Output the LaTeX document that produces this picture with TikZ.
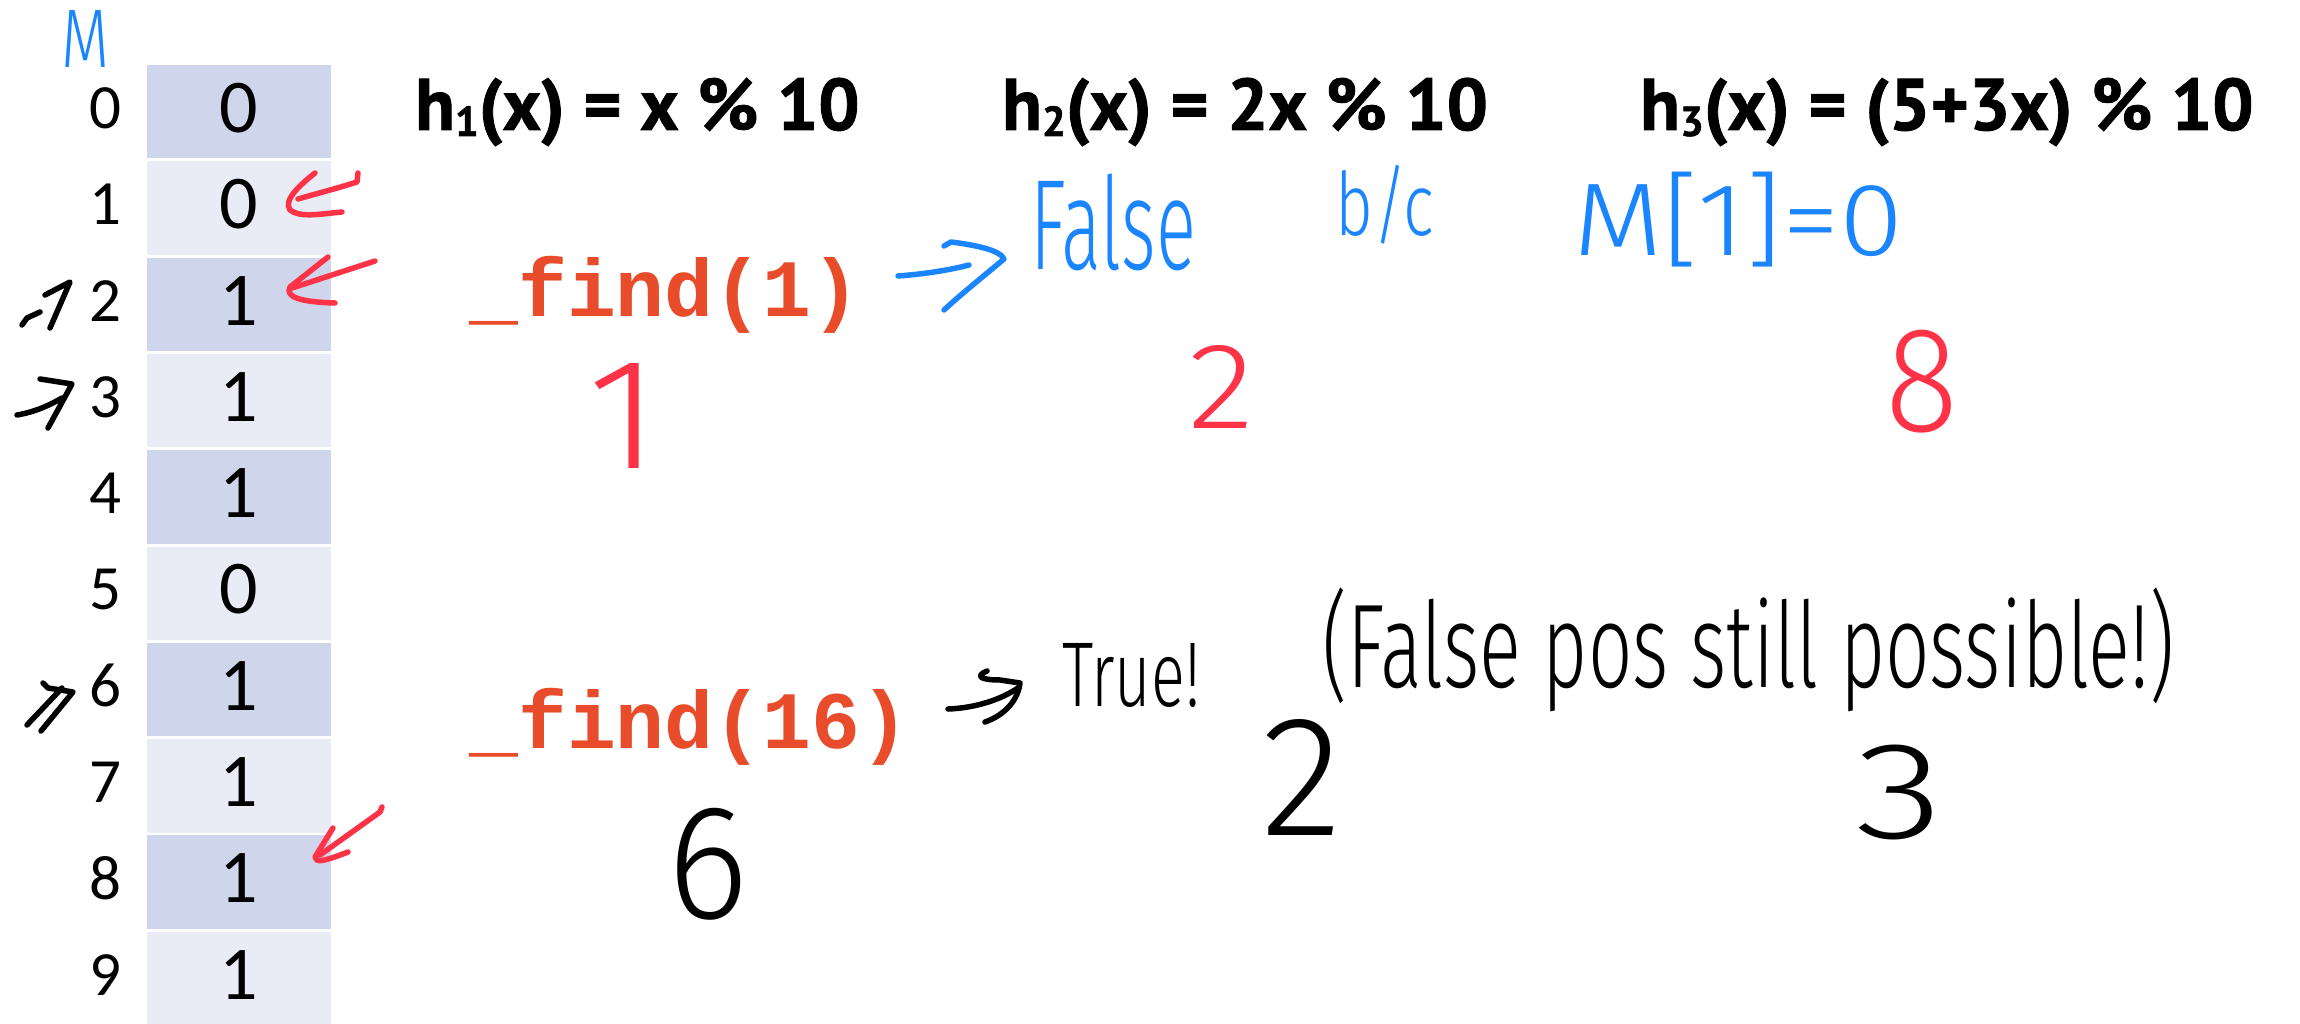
\documentclass[tikz,border=0pt]{standalone}
\usepackage{fontspec}
\usepackage{graphicx}
\setmainfont{Carlito}
\newfontfamily\headfont{PT Sans}[BoldFeatures={FakeBold=1.2}]
\newfontfamily\codefont{Liberation Mono}
\newfontfamily\handfont{Fira Sans Light}

\definecolor{rowdark}{HTML}{CFD5EA}
\definecolor{rowlight}{HTML}{E9EBF5}
\definecolor{codeorange}{HTML}{E84C2B}
\definecolor{inkblue}{HTML}{1A85FF}
\definecolor{inkred}{HTML}{FF3347}

% handwriting fitted into its box: width, height, text
\newcommand{\scrawl}[3]{\resizebox*{#1pt}{#2pt}{\handfont #3}}
% hash index subscript
\newcommand{\hsub}[1]{\raisebox{-6pt}{\fontsize{42}{42}\selectfont #1}}

\tikzset{
  cellnum/.style={inner sep=0pt, font=\fontsize{76}{76}\selectfont},
  idxnum/.style={inner sep=0pt, anchor=east, font=\fontsize{63}{63}\selectfont},
  hashfn/.style={inner sep=0pt, anchor=base west, font=\headfont\bfseries\fontsize{73}{73}\selectfont},
  call/.style={inner sep=0pt, anchor=base west, text=codeorange, font=\codefont\bfseries\fontsize{81.5}{81.5}\selectfont},
  note/.style={inner sep=0pt, anchor=north west},
  pen/.style={line width=5.5pt, line cap=round, line join=round},
}

\begin{document}
\begin{tikzpicture}[x=1pt, y=-1pt]
\useasboundingbox (0,0) rectangle (2300,1024);

% bit array M
\foreach \v/\c [count=\i from 0] in {0/rowdark,0/rowlight,1/rowdark,1/rowlight,1/rowdark,0/rowlight,1/rowdark,1/rowlight,1/rowdark,1/rowlight} {
  \fill[\c] (147,{65+96.3*\i}) rectangle (331,{65+96.3*\i+93.5});
  \node[cellnum] (cell\i) at (239,{65+96.3*\i+43}) {\v};
  \node[idxnum] (idx\i) at (122,{65+96.3*\i+43}) {\i};
}
\node[inner sep=0pt, text=inkblue] (mlabel) at (86,39) {\scrawl{48}{57}{M}};

% hash functions
\node[hashfn] (h1) at (415,130) {h\hsub{1}(x) = x \% 10};
\node[hashfn] (h2) at (1002,130) {h\hsub{2}(x) = 2x \% 10};
\node[hashfn] (h3) at (1640,130) {h\hsub{3}(x) = (5+3x) \% 10};

% lookups
\node[call] (find1) at (469,317) {\_find(1)};
\node[call] (find16) at (469,748) {\_find(16)};

% first lookup
\draw[pen, inkblue] (898,276) .. controls (925,274) and (950,270) .. (969,265);
\draw[pen, inkblue] (944,246) -- (951,242) .. controls (975,245) and (1000,250) .. (1004,259) .. controls (985,275) and (960,295) .. (944,310);
\node[note, text=inkblue] (false) at (1030,174) {\scrawl{166}{97}{False}};
\node[note, text=inkblue] (bc) at (1335,165) {\scrawl{99}{79}{b/c}};
\node[note, text=inkblue] (mone) at (1573,172) {\scrawl{330}{95}{M[1]=0}};
\node[note, text=inkred] (r1) at (587,363) {\scrawl{73}{105}{1}};
\node[note, text=inkred] (r2) at (1188,345) {\scrawl{66}{83}{2}};
\node[note, text=inkred] (r8) at (1885,330) {\scrawl{73}{103}{8}};

% red marks on the table
\draw[pen, inkred] (358,173) -- (357,182) .. controls (335,189) and (315,194) .. (298,199);
\draw[pen, inkred] (315,173) .. controls (300,185) and (283,200) .. (290,210) .. controls (300,218) and (320,214) .. (342,212);
\draw[pen, inkred] (375,261) -- (292,288);
\draw[pen, inkred] (328,257) -- (290,287) .. controls (285,297) and (300,302) .. (335,303);
\draw[pen, inkred] (382,807) -- (380,812) -- (320,855);
\draw[pen, inkred] (333,828) -- (315,857) .. controls (316,862) and (320,863) .. (348,852);

% second lookup
\draw[pen, black] (948,709) .. controls (975,708) and (1000,700) .. (1018,688);
\draw[pen, black] (987,671) .. controls (975,676) and (980,680) .. (1000,680) -- (1020,683) .. controls (1018,700) and (1005,715) .. (985,722);
\node[note] (true) at (1062,643) {\scrawl{138}{64}{True!}};
\node[note] (falsepos) at (1322,588) {\scrawl{852}{124}{(False pos still possible!)}};
\node[note] (b6) at (667,808) {\scrawl{81}{112}{6}};
\node[note] (b2) at (1261,719) {\scrawl{81}{116}{2}};
\node[note] (b3) at (1855,745) {\scrawl{88}{95}{3}};

% black marks by the indices
\draw[pen, black] (22,325) -- (27,318) -- (40,312);
\draw[pen, black] (45,295) -- (70,282) -- (50,328);
\draw[pen, black] (17,415) .. controls (35,412) and (50,405) .. (62,398);
\draw[pen, black] (40,379) -- (72,384) -- (48,428);
\draw[pen, black] (27,725) -- (62,688);
\draw[pen, black] (43,683) -- (48,688) -- (73,692) -- (41,731);

\end{tikzpicture}
\end{document}
